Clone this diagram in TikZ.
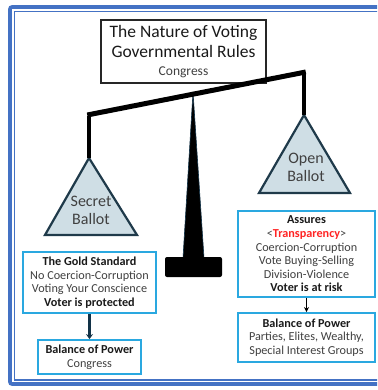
\documentclass[tikz,border=0pt]{standalone}
\usepackage{fontspec}
\setmainfont{Carlito}
\usetikzlibrary{arrows.meta}
\definecolor{frameblue}{HTML}{4472C4}
\definecolor{boxcyan}{HTML}{2AA8E0}
\definecolor{panfill}{HTML}{CFDEE5}
\definecolor{panline}{HTML}{1F3A4A}
\definecolor{txtgrey}{HTML}{404040}
\definecolor{txtdark}{HTML}{1A1A1A}
\definecolor{navyline}{HTML}{123247}
\definecolor{tred}{HTML}{FF2424}
\newcommand{\hl}[1]{{\color{txtdark}\bfseries #1}}
\newcommand{\smallt}{\fontsize{13.5}{14}\selectfont}
\begin{document}
\begin{tikzpicture}[x=1pt,y=-1pt,
  infobox/.style={draw=boxcyan, line width=1.8pt, fill=white, inner sep=0pt, align=center,
    font=\fontsize{12.2}{13.6}\selectfont, text=txtgrey},
  titlebox/.style={draw=black!85, line width=1.3pt, fill=white, inner sep=0pt, align=center, text=txtdark,
    font=\fontsize{17.5}{20}\selectfont},
  pan/.style={draw=panline, fill=panfill, line width=2.2pt, line join=miter},
  pantext/.style={align=center, text=txtgrey, font=\fontsize{16}{18}\selectfont, inner sep=0pt},
  beam/.style={line width=5pt, black},
  hanger/.style={line width=3.5pt, black}
]
\clip (0,0) rectangle (377,390);
\fill[white] (0,0) rectangle (377,390);
% frame
\draw[frameblue, line width=3.6pt, rounded corners=2pt] (10,7) rectangle (420,384);
\draw[frameblue, line width=1.1pt] (14.5,11.7) rectangle (420,380);

% title
\node[titlebox, minimum width=165, minimum height=63] (title) at (183.5,51.5)
  {The Nature of Voting\\Governmental Rules\\[-2pt]
   {\smallt\color{txtgrey} Congress}};

% pedestal
\fill[black, draw=navyline, line width=0.6pt] (193,92) -- (183,258) -- (204,258) -- cycle;
\fill[black, rounded corners=2pt] (165,257) rectangle (222,277);

% coordinates
\coordinate (lefthook) at (89,115);
\coordinate (righthook) at (304,72);
\coordinate (secretapex) at (89,158);
\coordinate (openapex) at (304,115);

% pans
\draw[pan] (secretapex) -- (45,235) -- (137,235) -- cycle;
\node[pantext] (secret) at (91,210) {Secret\\Ballot};
\draw[pan] (openapex) -- (259,193) -- (350,193) -- cycle;
\node[pantext] (open) at (306,167) {Open\\Ballot};

% beam and hangers
\draw[hanger] ([yshift=-1pt]lefthook) -- (secretapex);
\draw[hanger] ([yshift=-1pt]righthook) -- (openapex);
\draw[beam, line cap=butt] ([xshift=-1.75pt]lefthook) -- ([xshift=1.75pt]righthook);

% left boxes
\node[infobox, minimum width=133, minimum height=61] (gold) at (89.5,282.5)
  {\hl{The Gold Standard}\\No Coercion-Corruption\\Voting Your Conscience\\\hl{Voter is protected}};
\node[infobox, minimum width=103, minimum height=34] (leftbal) at (89.5,357)
  {\hl{Balance of Power}\\Congress};
\draw[navyline, line width=3pt, -{Stealth[length=5pt,width=7pt]}] (gold.south) -- (leftbal.north);

% right boxes
\node[infobox, minimum width=137, minimum height=86] (assures) at (306.5,254)
  {\hl{Assures}\\<{\color{tred}\bfseries Transparency}>\\Coercion-Corruption\\Vote Buying-Selling\\Division-Violence\\\hl{Voter is at risk}};
\node[infobox, minimum width=137, minimum height=49] (rightbal) at (306.5,337.5)
  {\hl{Balance of Power}\\Parties, Elites, Wealthy,\\Special Interest Groups};
\draw[black, line width=1.5pt, -{Stealth[length=5pt,width=5pt]}] (assures.south) -- (rightbal.north);
\end{tikzpicture}
\end{document}
